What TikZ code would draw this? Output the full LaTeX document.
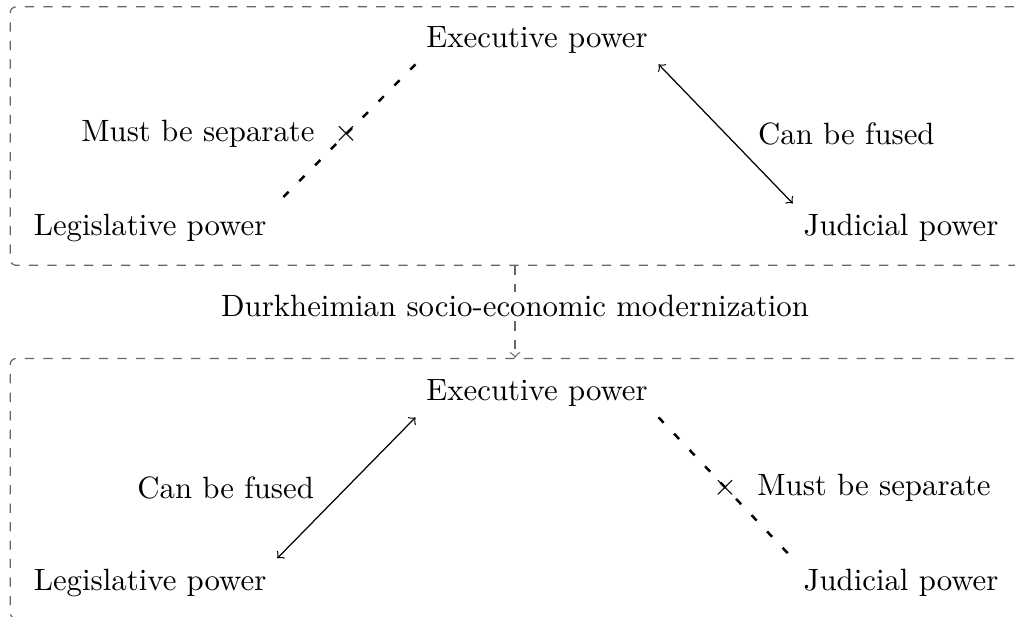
\documentclass[tikz,border=0pt]{standalone}
\usepackage{tikz}
\usetikzlibrary{positioning}
\tikzset{
  groupbox/.style={draw=black!60, dashed, rounded corners=2pt, minimum width=11.52cm, minimum height=2.95cm, inner sep=0pt},
  separate/.style={thick, dash pattern=on 2.4pt off 4.9pt, shorten >=2pt},
  fused/.style={<->},
  xmark/.style={inner sep=0pt},
  modern/.style={draw=black!60, dashed, ->},
}
\begin{document}
\begin{tikzpicture}
		%%%%% START %%%%%
		\useasboundingbox (0, 0) rectangle (11.58, -7.03);
		
		\node[groupbox] (topbox) at (5.876, -1.552) {};
		\node[groupbox, minimum height=2.97cm] (botbox) at (5.876, -5.574) {};
		\draw[modern] (topbox.south) -- node[fill=white, inner sep=1pt, yshift=2pt] (durk) {Durkheimian socio-economic modernization} (botbox.north);
		
		\node (exec1) at (6.127, -0.456) {Executive power};
		\node (leg1) at (1.712, -2.601) {Legislative power};
		\node (jud1) at (10.280, -2.601) {Judicial power};
		\draw[separate] (exec1.south west) -- node[xmark] (cut1) {$\times$} (leg1.north east);
		\node[left=2.5pt of cut1] (sep1) {Must be separate};
		\draw[fused] (exec1.south east) -- coordinate[midway] (mid1) (jud1.north west);
		\node[right=7pt of mid1] (fuse1) {Can be fused};
		
		\node (exec2) at (6.127, -4.484) {Executive power};
		\node (leg2) at (1.712, -6.652) {Legislative power};
		\node (jud2) at (10.280, -6.652) {Judicial power};
		\draw[fused] (leg2.north east) -- coordinate[midway] (mid2) (exec2.south west);
		\node[left=7pt of mid2] (fuse2) {Can be fused};
		\draw[separate] (exec2.south east) -- node[xmark] (cut2) {$\times$} (jud2.north west);
		\node[right=2.5pt of cut2] (sep2) {Must be separate};
		
		%%%%% END %%%%%
\end{tikzpicture}
\end{document}
